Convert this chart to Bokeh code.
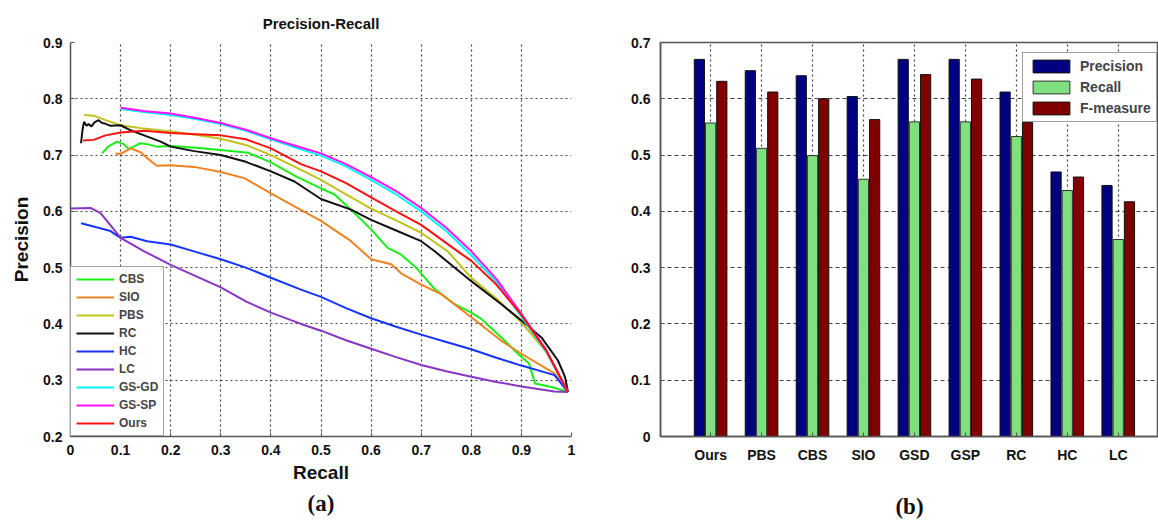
from bokeh.plotting import figure
from bokeh.models import FixedTicker, Legend, LegendItem, Title, ColumnDataSource, Range1d
from bokeh.transform import dodge
from bokeh.layouts import row
from bokeh.embed import file_html
from bokeh.resources import INLINE

# ---------------- data: (a) precision-recall curves ----------------
cbs_r = [0.063, 0.075, 0.093, 0.105, 0.116, 0.128, 0.139, 0.155, 0.172, 0.2, 0.25, 0.3, 0.355, 0.4, 0.45, 0.5,
         0.527, 0.56, 0.6, 0.633, 0.66, 0.69, 0.727, 0.767, 0.8, 0.82, 0.86, 0.893, 0.915, 0.922, 0.927, 0.96, 0.993]
cbs_p = [0.703, 0.715, 0.724, 0.72, 0.711, 0.716, 0.721, 0.719, 0.715, 0.716, 0.713, 0.709, 0.704, 0.687, 0.662, 0.641,
         0.630, 0.603, 0.568, 0.535, 0.523, 0.50, 0.462, 0.435, 0.42, 0.409, 0.376, 0.347, 0.33, 0.31, 0.294, 0.288, 0.279]

sio_r = [0.09, 0.1, 0.12, 0.14, 0.155, 0.172, 0.2, 0.247, 0.3, 0.347, 0.4, 0.447, 0.5, 0.56, 0.6, 0.64, 0.66, 0.7,
         0.74, 0.8, 0.86, 0.9, 0.966, 0.993]
sio_p = [0.703, 0.702, 0.712, 0.705, 0.693, 0.681, 0.682, 0.679, 0.670, 0.659, 0.632, 0.609, 0.583, 0.547, 0.515,
         0.506, 0.49, 0.47, 0.453, 0.412, 0.37, 0.347, 0.312, 0.279]

pbs_r = [0.027, 0.046, 0.07, 0.1, 0.147, 0.2, 0.25, 0.3, 0.35, 0.4, 0.45, 0.5, 0.55, 0.6, 0.65, 0.7, 0.753, 0.8,
         0.85, 0.9, 0.95, 0.993]
pbs_p = [0.771, 0.770, 0.762, 0.753, 0.747, 0.742, 0.736, 0.729, 0.718, 0.70, 0.678, 0.656, 0.63, 0.605, 0.584,
         0.562, 0.529, 0.482, 0.445, 0.403, 0.35, 0.279]

rc_r = [0.021, 0.024, 0.027, 0.032, 0.036, 0.042, 0.048, 0.056, 0.063, 0.069, 0.08, 0.1, 0.12, 0.147, 0.18, 0.2,
        0.247, 0.3, 0.35, 0.4, 0.447, 0.5, 0.56, 0.6, 0.65, 0.7, 0.727, 0.8, 0.86, 0.9, 0.94, 0.973, 0.987, 0.993]
rc_p = [0.721, 0.745, 0.759, 0.752, 0.755, 0.751, 0.758, 0.762, 0.757, 0.756, 0.752, 0.753, 0.744, 0.735, 0.724,
        0.715, 0.707, 0.70, 0.688, 0.671, 0.653, 0.622, 0.603, 0.585, 0.566, 0.547, 0.529, 0.476, 0.435, 0.406,
        0.376, 0.335, 0.306, 0.279]

hc_r = [0.021, 0.046, 0.08, 0.1, 0.12, 0.153, 0.2, 0.25, 0.3, 0.35, 0.4, 0.46, 0.5, 0.55, 0.6, 0.65, 0.7, 0.75,
        0.8, 0.85, 0.9, 0.966, 0.993]
hc_p = [0.579, 0.573, 0.565, 0.553, 0.555, 0.547, 0.541, 0.528, 0.515, 0.5, 0.482, 0.461, 0.448, 0.428, 0.41,
        0.395, 0.381, 0.368, 0.355, 0.34, 0.326, 0.309, 0.279]

lc_r = [0.0, 0.04, 0.06, 0.08, 0.1, 0.147, 0.2, 0.25, 0.3, 0.35, 0.4, 0.46, 0.5, 0.55, 0.6, 0.65, 0.7, 0.75, 0.8,
        0.85, 0.9, 0.966, 0.993]
lc_p = [0.605, 0.606, 0.597, 0.575, 0.553, 0.529, 0.505, 0.485, 0.465, 0.44, 0.42, 0.4, 0.388, 0.371, 0.356,
        0.341, 0.327, 0.316, 0.306, 0.297, 0.289, 0.28, 0.279]

gs_r = [0.1, 0.15, 0.2, 0.25, 0.3, 0.35, 0.4, 0.45, 0.5, 0.55, 0.6, 0.65, 0.7, 0.75, 0.8, 0.85, 0.9, 0.95, 0.993]
gsgd_p = [0.782, 0.776, 0.771, 0.764, 0.755, 0.743, 0.728, 0.713, 0.699, 0.68, 0.656, 0.63, 0.6, 0.565, 0.522,
          0.475, 0.413, 0.35, 0.279]
gssp_p = [0.784, 0.778, 0.774, 0.766, 0.757, 0.745, 0.730, 0.716, 0.703, 0.684, 0.661, 0.636, 0.606, 0.571, 0.529,
          0.48, 0.418, 0.353, 0.279]

ours_r = [0.025, 0.046, 0.07, 0.1, 0.148, 0.2, 0.25, 0.3, 0.35, 0.4, 0.46, 0.5, 0.55, 0.6, 0.65, 0.7, 0.773, 0.8,
          0.85, 0.9, 0.95, 0.993]
ours_p = [0.726, 0.727, 0.735, 0.740, 0.743, 0.739, 0.737, 0.735, 0.728, 0.712, 0.684, 0.671, 0.65, 0.625, 0.60,
          0.576, 0.529, 0.512, 0.47, 0.416, 0.352, 0.279]

curve_names = ["CBS", "SIO", "PBS", "RC", "HC", "LC", "GS-GD", "GS-SP", "Ours"]
curve_colors = ["#19EE19", "#F08220", "#C2C21A", "#111111", "#1434FF", "#8A34C4", "#00F5F5", "#FF10FF", "#FF1010"]
curves = [(cbs_r, cbs_p), (sio_r, sio_p), (pbs_r, pbs_p), (rc_r, rc_p), (hc_r, hc_p), (lc_r, lc_p),
          (gs_r, gsgd_p), (gs_r, gssp_p), (ours_r, ours_p)]

recall_ticks = [0, 0.1, 0.2, 0.3, 0.4, 0.5, 0.6, 0.7, 0.8, 0.9, 1]
precision_ticks = [0.2, 0.3, 0.4, 0.5, 0.6, 0.7, 0.8, 0.9]

# ---------------- data: (b) bar chart ----------------
methods = ["Ours", "PBS", "CBS", "SIO", "GSD", "GSP", "RC", "HC", "LC"]
precision = [0.670, 0.650, 0.641, 0.604, 0.670, 0.670, 0.612, 0.470, 0.446]
recall = [0.557, 0.512, 0.499, 0.457, 0.559, 0.559, 0.533, 0.437, 0.350]
fmeasure = [0.631, 0.612, 0.600, 0.563, 0.643, 0.635, 0.558, 0.461, 0.417]
bar_ticks = [0, 0.1, 0.2, 0.3, 0.4, 0.5, 0.6, 0.7]

FONT = "Liberation Sans"
SERIF = "Liberation Serif"

# ---------------- figure (a) ----------------
p1 = figure(width=580, height=521, x_range=Range1d(0, 1), y_range=Range1d(0.2, 0.9),
            output_backend="svg", toolbar_location=None,
            min_border_left=70, min_border_right=9, min_border_top=42, min_border_bottom=85)
p1.title.text = "Precision-Recall"
p1.title.align = "center"
p1.title.text_font = FONT
p1.title.text_font_size = "15px"
p1.title.text_font_style = "bold"
p1.title.text_color = "#111111"
p1.title.standoff = 22
p1.outline_line_color = None

items = []
for name, color, (rx, py) in zip(curve_names, curve_colors, curves):
    r = p1.line(rx, py, line_color=color, line_width=2)
    items.append(LegendItem(label=name, renderers=[r]))

for ax in (p1.xaxis[0], p1.yaxis[0]):
    ax.axis_line_color = "#555555"
    ax.axis_line_width = 1.5
    ax.major_tick_line_color = "#555555"
    ax.major_tick_in = 4
    ax.major_tick_out = 0
    ax.minor_tick_line_color = None
    ax.major_label_text_font = FONT
    ax.major_label_text_font_size = "14px"
    ax.major_label_text_font_style = "bold"
    ax.major_label_text_color = "#111111"
    ax.axis_label_text_font = FONT
    ax.axis_label_text_font_size = "19px"
    ax.axis_label_text_font_style = "bold"
    ax.axis_label_text_color = "#111111"

p1.xaxis.ticker = FixedTicker(ticks=recall_ticks)
p1.xaxis.major_label_overrides = {0: "0", 1: "1"}
p1.xaxis.axis_label = "Recall"
p1.xaxis.major_label_standoff = 8
p1.xaxis.axis_label_standoff = 4
p1.yaxis.ticker = FixedTicker(ticks=precision_ticks)
p1.yaxis.axis_label = "Precision"
p1.yaxis.major_label_standoff = 8
p1.yaxis.axis_label_standoff = 8

for g in (p1.xgrid[0], p1.ygrid[0]):
    g.grid_line_color = "#000000"
    g.grid_line_dash = "2 3"
    g.grid_line_width = 1.2
    g.grid_line_alpha = 0.75

leg1 = Legend(items=items, location="bottom_left", margin=0, padding=5, spacing=4,
              label_height=14, glyph_height=14, glyph_width=38, label_standoff=5,
              label_text_font=FONT, label_text_font_size="12px", label_text_font_style="bold",
              border_line_color="#444444", border_line_width=1.5, background_fill_alpha=1)
p1.add_layout(leg1)

ta = Title(text="(a)", align="center", text_font=SERIF, text_font_size="23px", text_font_style="bold",
           text_color="#111111", standoff=6)
p1.add_layout(ta, "below")

# ---------------- figure (b) ----------------
xs = list(range(1, len(methods) + 1))
src = ColumnDataSource(dict(x=xs, precision=precision, recall=recall, fmeasure=fmeasure))

p2 = figure(width=578, height=521, x_range=Range1d(0.017, 9.79), y_range=Range1d(0, 0.7),
            output_backend="svg", toolbar_location=None,
            min_border_left=80, min_border_right=0, min_border_top=42, min_border_bottom=84)
p2.outline_line_color = "#555555"
p2.outline_line_width = 1.5

rb1 = p2.vbar(x=dodge("x", -0.22), top="precision", width=0.2, source=src,
              fill_color="#000080", line_color="#111111", line_width=1)
rb2 = p2.vbar(x=dodge("x", 0.0), top="recall", width=0.2, source=src,
              fill_color="#80E080", line_color="#333333", line_width=1)
rb3 = p2.vbar(x=dodge("x", 0.22), top="fmeasure", width=0.2, source=src,
              fill_color="#800000", line_color="#111111", line_width=1)

for ax in (p2.xaxis[0], p2.yaxis[0]):
    ax.axis_line_color = "#555555"
    ax.axis_line_width = 1.5
    ax.major_tick_line_color = "#555555"
    ax.major_tick_in = 4
    ax.major_tick_out = 0
    ax.minor_tick_line_color = None
    ax.major_label_text_font = FONT
    ax.major_label_text_font_size = "14px"
    ax.major_label_text_font_style = "bold"
    ax.major_label_text_color = "#111111"

p2.xaxis.ticker = FixedTicker(ticks=xs)
p2.xaxis.major_label_overrides = {i: m for i, m in zip(xs, methods)}
p2.xaxis.major_label_standoff = 10
p2.xaxis.axis_label = "(b)"
p2.xaxis.axis_label_text_font = SERIF
p2.xaxis.axis_label_text_font_size = "23px"
p2.xaxis.axis_label_text_font_style = "bold"
p2.xaxis.axis_label_text_color = "#111111"
p2.xaxis.axis_label_standoff = 28
p2.yaxis.ticker = FixedTicker(ticks=bar_ticks)
p2.yaxis.major_label_overrides = {0: "0"}
p2.yaxis.major_label_standoff = 10

p2.xgrid.grid_line_color = "#000000"
p2.xgrid.grid_line_dash = "2 3"
p2.xgrid.grid_line_width = 1.2
p2.ygrid.grid_line_color = "#000000"
p2.ygrid.grid_line_dash = "4 3"
p2.ygrid.grid_line_width = 1.2
p2.xgrid.grid_line_alpha = 0.75
p2.ygrid.grid_line_alpha = 0.75

leg2 = Legend(items=[LegendItem(label="Precision", renderers=[rb1]),
                     LegendItem(label="Recall", renderers=[rb2]),
                     LegendItem(label="F-measure", renderers=[rb3])],
              location=(362, 314), margin=0, padding=5, spacing=5,
              label_height=16, glyph_height=16, glyph_width=46, label_standoff=6,
              label_text_font=FONT, label_text_font_size="14px", label_text_font_style="bold",
              border_line_color="#444444", border_line_width=1.5, background_fill_alpha=1)
p2.add_layout(leg2)

layout = row(p1, p2, spacing=0)
open("out.html", "w").write(file_html(layout, INLINE))
